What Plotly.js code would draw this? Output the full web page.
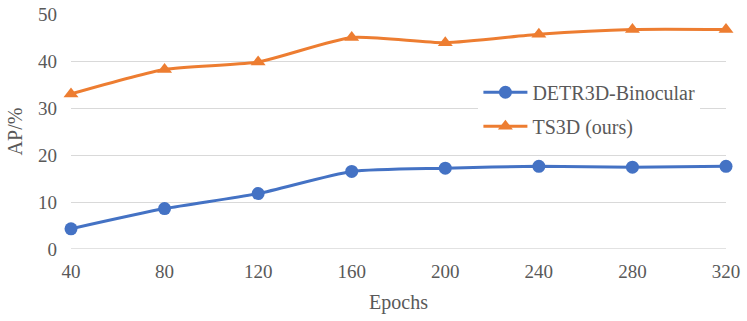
<!DOCTYPE html>
<html>
<head>
<meta charset="utf-8">
<script src="https://cdn.plot.ly/plotly-3.0.1.min.js"></script>
<style>
  body { margin: 0; background: #fff; }
  #chart { width: 747px; height: 321px; }
</style>
</head>
<body>
<div id="chart"></div>
<script>
let epochs = [40, 80, 120, 160, 200, 240, 280, 320];
let detr3dBinocular = [4.3, 8.6, 11.8, 16.5, 17.2, 17.6, 17.4, 17.6];
let ts3d = [33.0, 38.2, 39.8, 45.0, 43.9, 45.7, 46.7, 46.7];

let blueLine = {
  x: epochs,
  y: detr3dBinocular,
  name: 'DETR3D-Binocular',
  legendgroup: 'a',
  type: 'scatter',
  mode: 'lines+markers',
  line: {color: '#4472C4', width: 3, shape: 'spline', smoothing: 0.6},
  marker: {color: '#4472C4', size: 13, symbol: 'circle'},
  cliponaxis: false
};
let orangeLine = {
  x: epochs,
  y: ts3d,
  name: 'TS3D (ours)',
  legendgroup: 'b',
  type: 'scatter',
  mode: 'lines+markers',
  line: {color: '#ED7D31', width: 3, shape: 'spline', smoothing: 0.6},
  marker: {color: '#ED7D31', size: 13, symbol: 'triangle-up'},
  cliponaxis: false
};

let serif = 'Liberation Serif';

let layout = {
  width: 747,
  height: 321,
  margin: {l: 71, r: 21, t: 14, b: 72},
  paper_bgcolor: '#fff',
  plot_bgcolor: '#fff',
  font: {family: serif, color: '#595959', size: 19},
  xaxis: {
    range: [40, 320],
    tickvals: epochs,
    ticktext: epochs.map(String),
    showgrid: false,
    zeroline: false,
    showline: false,
    ticks: '',
    ticklabelstandoff: 9,
    tickfont: {family: serif, size: 19, color: '#595959'},
    title: {text: 'Epochs', font: {family: serif, size: 20, color: '#595959'}, standoff: 13}
  },
  yaxis: {
    range: [0, 50],
    dtick: 10,
    showgrid: true,
    gridcolor: '#d9d9d9',
    gridwidth: 1.3,
    zeroline: false,
    showline: false,
    ticks: '',
    ticklabelstandoff: 13,
    tickfont: {family: serif, size: 19, color: '#595959'},
    title: {text: 'AP/%', font: {family: serif, size: 20, color: '#595959'}, standoff: 10}
  },
  shapes: [{
    type: 'line', xref: 'paper', yref: 'y', x0: 0, x1: 1, y0: 0, y1: 0,
    line: {color: '#d9d9d9', width: 1.3}
  }],
  legend: {
    x: 0.622,
    y: 0.75,
    xanchor: 'left',
    yanchor: 'top',
    bgcolor: '#ffffff',
    font: {family: serif, size: 20, color: '#595959'},
    itemwidth: 44,
    tracegroupgap: 5
  },
  showlegend: true
};

Plotly.newPlot(document.getElementById('chart'), [blueLine, orangeLine], layout, {displayModeBar: false});
</script>
</body>
</html>
